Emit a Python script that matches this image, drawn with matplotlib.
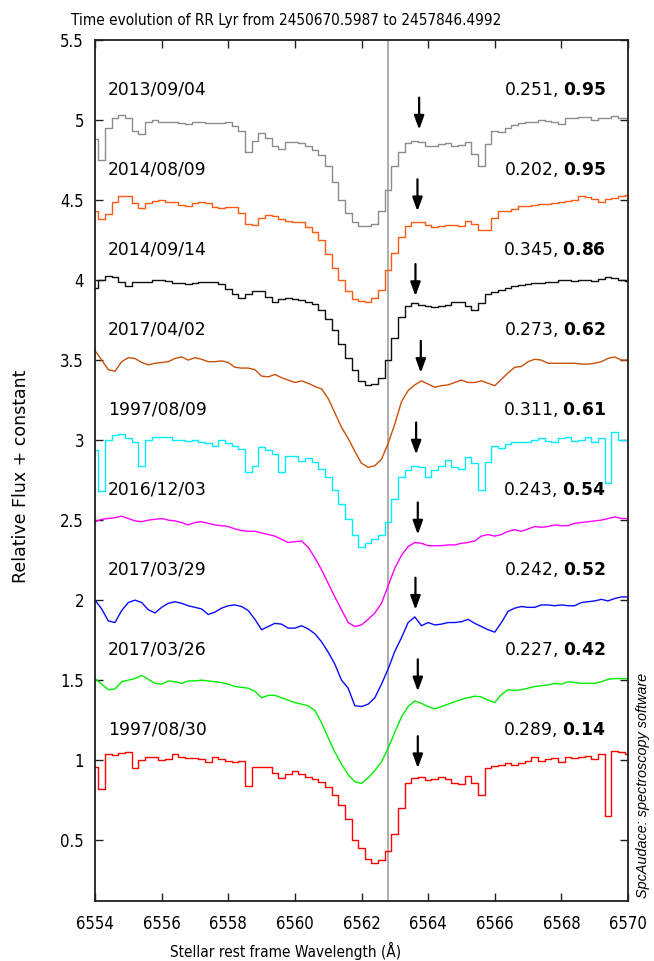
import numpy as np
import matplotlib
matplotlib.use('Agg')
import matplotlib.pyplot as plt
from matplotlib.ticker import FuncFormatter, MultipleLocator

# wavelength grid (Angstrom), 0.2 A sampling
wl = np.linspace(6554.0, 6570.0, 81)

dates = ['2013/09/04', '2014/08/09', '2014/09/14', '2017/04/02', '1997/08/09',
         '2016/12/03', '2017/03/29', '2017/03/26', '1997/08/30']
phase = ['0.251', '0.202', '0.345', '0.273', '0.311', '0.243', '0.242', '0.227', '0.289']
amp = ['0.95', '0.95', '0.86', '0.62', '0.61', '0.54', '0.52', '0.42', '0.14']
offsets = [4.0, 3.5, 3.0, 2.5, 2.0, 1.5, 1.0, 0.5, 0.0]

# normalised flux of each night
f_20130904 = [0.88, 0.75, 0.95, 1.01, 1.03, 1.01, 0.93, 0.91, 0.99, 1.00,
              0.99, 0.985, 0.99, 0.98, 0.975, 0.99, 0.985, 0.98, 0.98, 0.98,
              0.985, 0.965, 0.93, 0.80, 0.87, 0.92, 0.885, 0.84, 0.82, 0.86,
              0.865, 0.855, 0.835, 0.815, 0.78, 0.71, 0.61, 0.50, 0.42, 0.36,
              0.34, 0.34, 0.35, 0.43, 0.56, 0.71, 0.80, 0.855, 0.87, 0.86,
              0.84, 0.84, 0.85, 0.855, 0.835, 0.845, 0.86, 0.79, 0.71, 0.85,
              0.93, 0.925, 0.95, 0.97, 0.98, 0.985, 0.99, 1.00, 0.995, 0.985,
              0.975, 1.01, 1.015, 1.02, 1.02, 1.00, 1.01, 1.015, 1.025, 1.01,
              1.015]
f_20140809 = [0.93, 0.88, 0.91, 0.99, 1.025, 1.025, 0.98, 0.95, 0.98, 0.995,
              1.00, 0.99, 0.985, 0.97, 0.96, 0.98, 0.99, 0.98, 0.955, 0.95,
              0.955, 0.955, 0.92, 0.85, 0.845, 0.885, 0.905, 0.90, 0.88, 0.87,
              0.86, 0.86, 0.83, 0.80, 0.75, 0.66, 0.575, 0.50, 0.43, 0.38,
              0.37, 0.365, 0.385, 0.44, 0.56, 0.67, 0.77, 0.84, 0.865, 0.86,
              0.845, 0.83, 0.84, 0.845, 0.845, 0.84, 0.87, 0.85, 0.81, 0.81,
              0.89, 0.93, 0.93, 0.945, 0.96, 0.965, 0.97, 0.975, 0.975, 0.98,
              0.99, 0.995, 1.00, 1.025, 1.02, 1.005, 0.99, 1.005, 1.015, 1.025,
              1.03]
f_20140914 = [0.95, 1.00, 1.025, 1.02, 0.99, 0.965, 0.985, 0.99, 0.985, 1.00,
              1.00, 0.995, 0.98, 0.98, 0.975, 0.98, 0.985, 0.99, 0.99, 0.975,
              0.945, 0.915, 0.89, 0.91, 0.93, 0.93, 0.895, 0.865, 0.88, 0.89,
              0.88, 0.875, 0.865, 0.85, 0.815, 0.755, 0.69, 0.60, 0.51, 0.435,
              0.37, 0.345, 0.35, 0.39, 0.50, 0.64, 0.77, 0.84, 0.855, 0.845,
              0.835, 0.83, 0.84, 0.845, 0.86, 0.86, 0.84, 0.81, 0.855, 0.91,
              0.925, 0.935, 0.95, 0.96, 0.97, 0.975, 0.98, 0.98, 0.985, 0.99,
              1.00, 1.00, 0.995, 1.00, 1.00, 0.995, 1.005, 1.02, 1.01, 1.00,
              0.995]
f_20170402 = [1.06, 1.00, 0.94, 0.93, 0.99, 1.015, 1.01, 0.985, 0.97, 0.98,
              0.985, 0.99, 1.01, 1.02, 1.00, 1.015, 1.005, 0.99, 0.99, 0.995,
              0.985, 0.955, 0.95, 0.95, 0.94, 0.90, 0.895, 0.91, 0.89, 0.875,
              0.86, 0.87, 0.855, 0.835, 0.82, 0.76, 0.67, 0.58, 0.51, 0.43,
              0.355, 0.33, 0.34, 0.38, 0.48, 0.60, 0.74, 0.81, 0.845, 0.87,
              0.85, 0.83, 0.84, 0.845, 0.86, 0.875, 0.86, 0.86, 0.87, 0.855,
              0.84, 0.88, 0.92, 0.955, 0.96, 0.99, 1.005, 1.00, 0.98, 0.98,
              0.98, 0.98, 0.98, 0.975, 0.975, 0.98, 0.99, 1.01, 1.02, 1.00,
              1.00]
f_19970809 = [0.94, 0.68, 1.00, 1.03, 1.04, 1.01, 0.99, 0.84, 1.00, 1.02,
              1.02, 1.02, 1.00, 1.00, 0.995, 1.00, 0.99, 0.98, 0.96, 1.00,
              0.98, 0.965, 0.945, 0.80, 0.84, 0.955, 0.94, 0.91, 0.80, 0.90,
              0.90, 0.87, 0.885, 0.86, 0.82, 0.77, 0.69, 0.60, 0.51, 0.41,
              0.33, 0.355, 0.38, 0.41, 0.49, 0.63, 0.77, 0.815, 0.84, 0.83,
              0.77, 0.81, 0.84, 0.875, 0.83, 0.82, 0.895, 0.855, 0.69, 0.86,
              0.96, 0.95, 0.975, 0.985, 0.99, 0.99, 1.00, 1.01, 0.995, 0.99,
              1.01, 1.02, 0.995, 1.00, 1.02, 0.99, 1.01, 0.73, 1.05, 1.00,
              1.00]
f_20161203 = [0.99, 1.005, 1.01, 1.015, 1.025, 1.01, 0.995, 0.99, 1.00, 1.005,
              1.01, 1.00, 0.995, 0.985, 0.97, 0.985, 0.99, 0.98, 0.97, 0.965,
              0.96, 0.945, 0.935, 0.93, 0.93, 0.92, 0.91, 0.90, 0.88, 0.86,
              0.865, 0.87, 0.83, 0.765, 0.69, 0.605, 0.52, 0.44, 0.36, 0.335,
              0.345, 0.38, 0.42, 0.48, 0.59, 0.70, 0.78, 0.835, 0.86, 0.855,
              0.84, 0.84, 0.84, 0.845, 0.845, 0.855, 0.86, 0.87, 0.90, 0.91,
              0.90, 0.91, 0.93, 0.94, 0.93, 0.945, 0.96, 0.955, 0.96, 0.97,
              0.965, 0.965, 0.98, 0.985, 0.99, 0.995, 1.00, 1.01, 1.02, 1.01,
              1.01]
f_20170329 = [1.00, 0.945, 0.87, 0.86, 0.935, 0.985, 1.00, 0.985, 0.94, 0.92,
              0.955, 0.98, 0.99, 0.98, 0.965, 0.955, 0.945, 0.91, 0.925, 0.95,
              0.965, 0.97, 0.96, 0.935, 0.88, 0.815, 0.835, 0.855, 0.85, 0.825,
              0.825, 0.84, 0.82, 0.79, 0.74, 0.675, 0.60, 0.50, 0.45, 0.34,
              0.335, 0.35, 0.39, 0.475, 0.57, 0.68, 0.765, 0.86, 0.895, 0.84,
              0.86, 0.845, 0.85, 0.86, 0.86, 0.865, 0.88, 0.855, 0.835, 0.815,
              0.80, 0.86, 0.93, 0.95, 0.96, 0.955, 0.955, 0.97, 0.97, 0.965,
              0.97, 0.965, 0.965, 0.985, 0.99, 0.995, 1.005, 0.995, 1.01, 1.02,
              1.02]
f_20170326 = [1.01, 0.975, 0.94, 0.945, 0.99, 1.00, 1.01, 1.03, 1.005, 0.98,
              0.975, 0.995, 0.99, 0.98, 0.995, 0.995, 1.00, 0.995, 0.99, 0.985,
              0.975, 0.96, 0.955, 0.95, 0.93, 0.89, 0.905, 0.905, 0.89, 0.875,
              0.86, 0.85, 0.84, 0.81, 0.735, 0.64, 0.55, 0.475, 0.41, 0.365,
              0.355, 0.39, 0.435, 0.49, 0.575, 0.675, 0.77, 0.835, 0.87, 0.855,
              0.835, 0.82, 0.835, 0.85, 0.865, 0.88, 0.89, 0.90, 0.895, 0.875,
              0.86, 0.91, 0.94, 0.935, 0.94, 0.95, 0.96, 0.965, 0.97, 0.98,
              0.975, 0.99, 0.985, 0.98, 0.98, 0.98, 0.99, 1.005, 1.01, 1.01,
              1.01]
f_19970830 = [0.96, 0.82, 1.04, 1.035, 1.045, 1.05, 0.95, 1.00, 1.02, 1.02,
              1.00, 1.01, 1.04, 1.02, 1.015, 1.015, 1.01, 0.99, 1.02, 1.005,
              0.995, 0.99, 0.995, 0.84, 0.96, 0.96, 0.955, 0.92, 0.89, 0.915,
              0.93, 0.915, 0.895, 0.88, 0.865, 0.83, 0.78, 0.72, 0.63, 0.50,
              0.45, 0.385, 0.355, 0.375, 0.43, 0.54, 0.70, 0.855, 0.89, 0.895,
              0.875, 0.885, 0.895, 0.885, 0.86, 0.85, 0.90, 0.86, 0.78, 0.95,
              0.965, 0.97, 0.98, 0.97, 0.98, 0.995, 1.02, 0.995, 1.01, 1.015,
              0.99, 1.02, 1.015, 1.02, 1.025, 1.01, 1.04, 0.65, 1.06, 1.05,
              1.04]

fluxes = [f_20130904, f_20140809, f_20140914, f_20170402, f_19970809,
          f_20161203, f_20170329, f_20170326, f_19970830]

# emission bump marked by the arrows (wavelength, tip level above offset)
arrow_wl = [6563.73, 6563.68, 6563.62, 6563.78, 6563.64, 6563.69, 6563.62, 6563.69, 6563.69]
arrow_tip = [0.94, 0.93, 0.90, 0.92, 0.91, 0.91, 0.94, 0.93, 0.95]

halpha = 6562.8

colors = ['#8c8c8c', '#ff5a14', '#101010', '#c8500a', '#00eeff',
          '#ff00ff', '#0a0aff', '#00ee00', '#ff0000']
steps = [True, True, True, False, True, False, False, False, True]

fig = plt.figure(figsize=(6.54, 9.61), dpi=100)
ax = fig.add_axes([95 / 654, 1 - 901 / 961, 533 / 654, 861 / 961])

ax.axvline(halpha, color='#a0a0a0', lw=1.2, zorder=1)

for i in range(len(fluxes)):
    y = np.array(fluxes[i]) + offsets[i]
    ds = 'steps-mid' if steps[i] else 'default'
    ax.plot(wl, y, color=colors[i], lw=1.0, drawstyle=ds, zorder=2)
    ax.text(6554.38, offsets[i] + 1.19, dates[i], fontsize=12.3,
            family='DejaVu Sans', ha='left', va='center')
    ax.text(6569.34, offsets[i] + 1.19, phase[i] + r', $\mathbf{' + amp[i] + '}$',
            fontsize=12.3, family='DejaVu Sans', ha='right', va='center')
    ax.annotate('', xy=(arrow_wl[i], offsets[i] + arrow_tip[i]),
                xytext=(arrow_wl[i], offsets[i] + arrow_tip[i] + 0.2),
                arrowprops=dict(arrowstyle='-|>,head_length=0.55,head_width=0.2',
                                color='black', lw=1.6, mutation_scale=15,
                                shrinkA=0, shrinkB=0), zorder=3)

ax.set_xlim(6554, 6570)
ax.set_ylim(0.12, 5.5)
ax.xaxis.set_major_locator(MultipleLocator(2))
ax.yaxis.set_major_locator(MultipleLocator(0.5))
ax.yaxis.set_major_formatter(FuncFormatter(lambda v, p: '%g' % v))
ax.xaxis.set_major_formatter(FuncFormatter(lambda v, p: '%g' % v))
ax.tick_params(direction='in', length=6, width=1, top=True, right=True,
               labelsize=12, color='#202020')
ax.tick_params(axis='x', pad=10)
ax.tick_params(axis='y', pad=8)
for lab in ax.get_xticklabels() + ax.get_yticklabels():
    lab.set_family('DejaVu Sans')
    lab.set_stretch('condensed')
for sp in ax.spines.values():
    sp.set_linewidth(1.3)
    sp.set_color('#202020')

fig.text(286 / 654, 1 - 21 / 961, 'Time evolution of RR Lyr from 2450670.5987 to 2457846.4992',
         ha='center', va='center', fontsize=11, family='DejaVu Sans', stretch='condensed')
fig.text(286 / 654, 1 - 951 / 961, 'Stellar rest frame Wavelength (Å)',
         ha='center', va='center', fontsize=11, family='DejaVu Sans', stretch='condensed')
fig.text(21.5 / 654, 1 - 476 / 961, 'Relative Flux + constant', rotation=90,
         ha='center', va='center', fontsize=12.5, family='DejaVu Sans')
fig.text(643 / 654, 1 - 785 / 961, 'SpcAudace: spectroscopy software', rotation=90,
         ha='center', va='center', fontsize=10.4, style='italic',
         family=['Liberation Sans', 'DejaVu Sans'])

fig.savefig('out.png', dpi=100)
